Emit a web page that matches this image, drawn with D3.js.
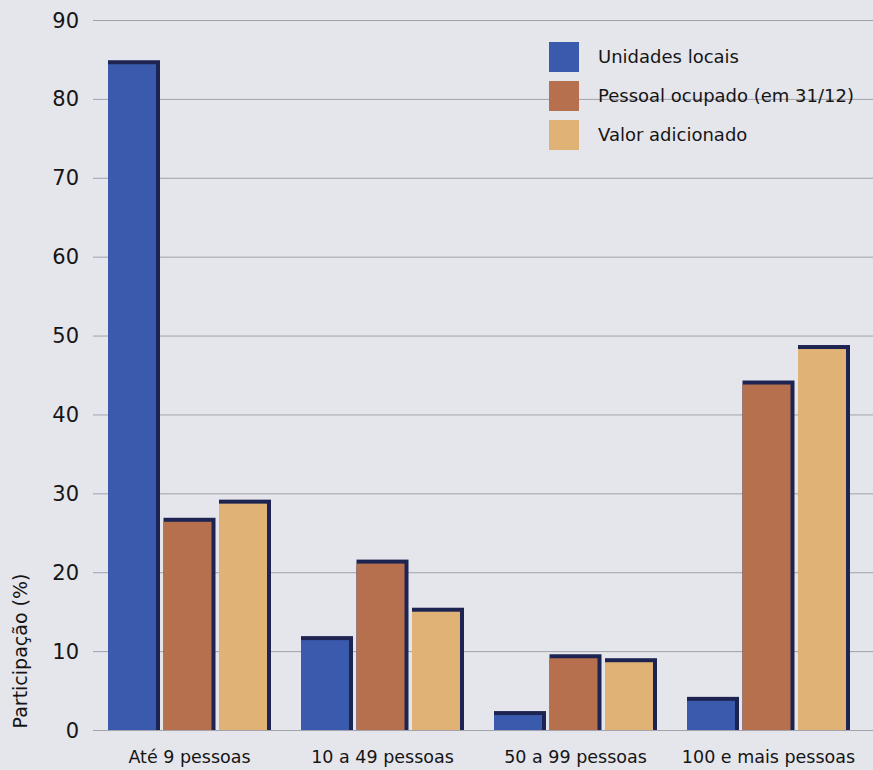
<!DOCTYPE html>
<html>
<head>
<meta charset="utf-8">
<script src="https://cdn.jsdelivr.net/npm/d3@7"></script>
<style>
  body { margin: 0; background: #e5e5ec; }
  svg { display: block; }
  text { font-family: "DejaVu Sans", "Open Sans", sans-serif; fill: #151515; }
</style>
</head>
<body>
<svg id="chart" width="873" height="770"></svg>
<script>
var categories = ['Até 9 pessoas', '10 a 49 pessoas', '50 a 99 pessoas', '100 e mais pessoas'];
var series = ['Unidades locais', 'Pessoal ocupado (em 31/12)', 'Valor adicionado'];
var unidades = [84.9, 11.9, 2.4, 4.2];
var pessoal = [26.9, 21.6, 9.6, 44.3];
var valor = [29.2, 15.5, 9.1, 48.8];
var yTicks = [0, 10, 20, 30, 40, 50, 60, 70, 80, 90];

var colors = ['#3a5aad', '#b7704e', '#e0b275'];
var edge = '#1d2452';

var svg = d3.select("#chart");
var W = 873, H = 770;
var mLeft = 93, mRight = 865, mTop = 20, mBottom = 730;

var values = [unidades, pessoal, valor];
var data = [];
categories.forEach(function(c, i) {
    series.forEach(function(s, j) {
        data.push({cat: c, ser: s, j: j, v: values[j][i]});
    });
});

var x0 = d3.scaleBand().domain(categories).range([mLeft, mRight]);
var x1 = d3.scaleBand().domain(series).range([15, x0.bandwidth() - 15]).paddingInner(0.063);
var y = d3.scaleLinear().domain([0, 90]).range([mBottom, mTop]);

// gridlines
svg.append("g").selectAll("line")
    .data(yTicks)
    .enter().append("line")
    .attr("x1", mLeft).attr("x2", W)
    .attr("y1", function(d) { return y(d) + 0.5; })
    .attr("y2", function(d) { return y(d) + 0.5; })
    .style("stroke", "#a2a2aa")
    .style("stroke-width", 1);

// tick labels
svg.append("g").selectAll("text")
    .data(yTicks)
    .enter().append("text")
    .attr("x", 79)
    .attr("y", function(d) { return y(d); })
    .attr("dy", "0.36em")
    .attr("text-anchor", "end")
    .style("font-size", "21px")
    .text(function(d) { return d; });

// bars: dark edge on top and right, coloured face
var bars = svg.append("g").selectAll("g.bar")
    .data(data)
    .enter().append("g")
    .attr("class", "bar")
    .attr("transform", function(d) { return "translate(" + (x0(d.cat) + x1(d.ser)) + ",0)"; });

var ed = 4;
bars.append("rect")
    .attr("x", 0)
    .attr("y", function(d) { return y(d.v); })
    .attr("width", x1.bandwidth())
    .attr("height", function(d) { return y(0) - y(d.v); })
    .style("fill", edge);

bars.append("rect")
    .attr("x", 0)
    .attr("y", function(d) { return y(d.v) + ed; })
    .attr("width", x1.bandwidth() - ed)
    .attr("height", function(d) { return Math.max(0, y(0) - y(d.v) - ed); })
    .style("fill", function(d) { return colors[d.j]; });

// category labels
svg.append("g").selectAll("text")
    .data(categories)
    .enter().append("text")
    .attr("x", function(d) { return x0(d) + x0.bandwidth() / 2; })
    .attr("y", 763)
    .attr("text-anchor", "middle")
    .style("font-size", "17.5px")
    .text(function(d) { return d; });

// y title
svg.append("text")
    .attr("transform", "translate(27,651) rotate(-90)")
    .attr("text-anchor", "middle")
    .style("font-size", "19px")
    .text("Participação (%)");

// legend
var lg = svg.append("g").selectAll("g")
    .data(series)
    .enter().append("g")
    .attr("transform", function(d, i) { return "translate(549," + (42 + i * 39) + ")"; });
lg.append("rect")
    .attr("width", 30).attr("height", 30)
    .style("fill", function(d, i) { return colors[i]; });
lg.append("text")
    .attr("x", 49).attr("y", 15)
    .attr("dy", "0.36em")
    .style("font-size", "18px")
    .text(function(d) { return d; });
</script>
</body>
</html>
